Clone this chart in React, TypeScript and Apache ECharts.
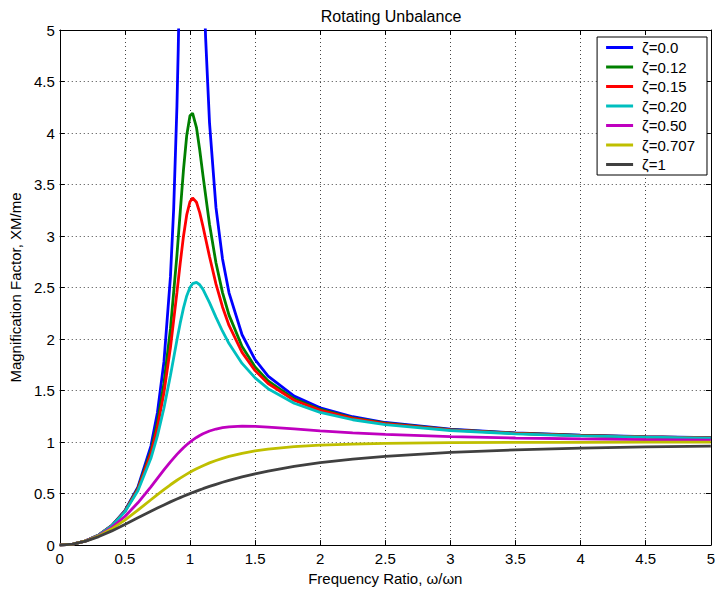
import React, { useEffect, useRef } from "react";
import * as echarts from "echarts";

// Frequency ratio samples (ω/ωn)
const ratioUndamped = [0, 0.1, 0.2, 0.3, 0.4, 0.5, 0.6, 0.7, 0.75, 0.8, 0.85, 0.875, 0.9, 0.91, 0.92, 1.11, 1.12, 1.15, 1.2, 1.25, 1.3, 1.4, 1.5, 1.6, 1.8, 2.0, 2.25, 2.5, 3.0, 3.5, 4.0, 4.5, 5.0];
const zeta000 = [0, 0.0101, 0.0417, 0.0989, 0.1905, 0.3333, 0.5625, 0.9608, 1.2857, 1.7778, 2.6036, 3.267, 4.263, 4.817, 5.51, 5.31, 4.931, 4.101, 3.273, 2.778, 2.449, 2.042, 1.8, 1.641, 1.446, 1.333, 1.246, 1.190, 1.125, 1.089, 1.067, 1.052, 1.042];

const ratio = [0, 0.1, 0.2, 0.3, 0.4, 0.5, 0.6, 0.7, 0.75, 0.8, 0.85, 0.9, 0.925, 0.95, 0.975, 1.0, 1.02, 1.05, 1.075, 1.1, 1.15, 1.2, 1.25, 1.3, 1.4, 1.5, 1.6, 1.8, 2.0, 2.25, 2.5, 3.0, 3.5, 4.0, 4.5, 5.0];
const zeta012 = [0, 0.0101, 0.0416, 0.0986, 0.1892, 0.3292, 0.5488, 0.9126, 1.189, 1.5686, 2.098, 2.815, 3.231, 3.639, 3.975, 4.167, 4.193, 4.053, 3.8355, 3.587, 3.115, 2.738, 2.451, 2.232, 1.927, 1.7297, 1.5934, 1.4203, 1.3166, 1.2353, 1.1828, 1.1205, 1.0859, 1.0645, 1.0503, 1.0404];
const zeta015 = [0, 0.0101, 0.0416, 0.0984, 0.1886, 0.3269, 0.5415, 0.8884, 1.143, 1.4791, 1.9174, 2.453, 2.7353, 2.996, 3.2047, 3.333, 3.370, 3.328, 3.2273, 3.093, 2.801, 2.533, 2.3113, 2.132, 1.8705, 1.6936, 1.5684, 1.4061, 1.3074, 1.2293, 1.1785, 1.1179, 1.0842, 1.0633, 1.0494, 1.0396];
const zeta020 = [0, 0.0101, 0.0415, 0.0981, 0.1871, 0.3221, 0.5267, 0.8422, 1.060, 1.3287, 1.6462, 1.990, 2.1543, 2.300, 2.4182, 2.5, 2.5376, 2.550, 2.5271, 2.482, 2.354, 2.211, 2.0761, 1.956, 1.7635, 1.6228, 1.5182, 1.377, 1.2883, 1.2167, 1.1695, 1.1125, 1.0806, 1.0607, 1.0474, 1.0381];
const zeta050 = [0, 0.0100, 0.0408, 0.0939, 0.1720, 0.2774, 0.4104, 0.5658, 0.6478, 0.7295, 0.8081, 0.8806, 0.9139, 0.945, 0.9738, 1.0, 1.0192, 1.045, 1.0639, 1.0805, 1.1073, 1.1267, 1.1399, 1.1483, 1.1546, 1.1523, 1.1456, 1.1275, 1.1094, 1.0901, 1.0748, 1.0534, 1.0397, 1.0307, 1.0243, 1.0198];
const zeta0707 = [0, 0.0100, 0.0400, 0.0896, 0.1580, 0.2425, 0.3387, 0.4400, 0.4903, 0.5390, 0.5856, 0.6294, 0.6502, 0.670, 0.6891, 0.7072, 0.7211, 0.7408, 0.7563, 0.7709, 0.7978, 0.8215, 0.8424, 0.8607, 0.8909, 0.9139, 0.9316, 0.9556, 0.9702, 0.9811, 0.9875, 0.9939, 0.9967, 0.9981, 0.9988, 0.9992];
const zeta100 = [0, 0.0099, 0.0385, 0.0826, 0.1379, 0.2, 0.2647, 0.3289, 0.36, 0.3902, 0.4194, 0.4475, 0.4611, 0.4744, 0.4873, 0.5, 0.5099, 0.5244, 0.5361, 0.5475, 0.5694, 0.5902, 0.6098, 0.6283, 0.6622, 0.6923, 0.7191, 0.7642, 0.8, 0.8351, 0.8621, 0.9, 0.9245, 0.9412, 0.9529, 0.9615];

const seriesNames = ["ζ=0.0", "ζ=0.12", "ζ=0.15", "ζ=0.20", "ζ=0.50", "ζ=0.707", "ζ=1"];
const seriesColors = ["#0000ff", "#008000", "#ff0000", "#00bfbf", "#bf00bf", "#bfbf00", "#404040"];

const FONT = "Liberation Sans, Arial, sans-serif";

export default function App() {
  const ref = useRef<HTMLDivElement>(null);

  useEffect(() => {
    if (!ref.current) return;
    const chart = echarts.init(ref.current, undefined, { renderer: "svg" });

    const pair = (xs: number[], ys: number[]) => xs.map((x, i) => [x, ys[i]]);
    const datasets = [
      pair(ratioUndamped, zeta000),
      pair(ratio, zeta012),
      pair(ratio, zeta015),
      pair(ratio, zeta020),
      pair(ratio, zeta050),
      pair(ratio, zeta0707),
      pair(ratio, zeta100),
    ];

    const splitLine = { show: true, lineStyle: { color: "#444", type: [1, 3] as any, width: 1 } };
    const axisLine = { show: true, onZero: false, lineStyle: { color: "#000", width: 1 } };
    const tick = { show: true, inside: true, length: 5, lineStyle: { color: "#000" } };
    const label = { color: "#000", fontFamily: FONT, fontSize: 15 };

    chart.setOption({
      animation: false,
      backgroundColor: "#fff",
      title: {
        text: "Rotating Unbalance",
        left: 386,
        textAlign: "center",
        top: 3,
        textStyle: { fontFamily: FONT, fontSize: 16, fontWeight: "normal", color: "#000" },
      },
      grid: { left: 59, right: 5, top: 30, bottom: 44, show: false },
      legend: {
        orient: "vertical",
        right: 11,
        top: 37,
        data: seriesNames,
        icon: "rect",
        itemWidth: 27,
        itemHeight: 3,
        itemGap: 4.5,
        padding: [3, 12, 3, 9],
        borderColor: "#000",
        borderWidth: 1,
        borderRadius: 0,
        backgroundColor: "#fff",
        textStyle: { fontFamily: FONT, fontSize: 15, color: "#000", padding: [0, 0, 0, 4] },
      },
      xAxis: [
        {
          type: "value",
          min: 0,
          max: 5,
          interval: 0.5,
          name: "Frequency Ratio, ω/ωn",
          nameLocation: "middle",
          nameGap: 25.5,
          nameTextStyle: { fontFamily: FONT, fontSize: 15, color: "#000" },
          axisLine,
          axisTick: tick,
          axisLabel: { ...label, margin: 6 },
          splitLine,
        },
        {
          type: "value",
          position: "top",
          min: 0,
          max: 5,
          interval: 0.5,
          axisLine,
          axisTick: tick,
          axisLabel: { show: false },
          splitLine: { show: false },
        },
      ],
      yAxis: [
        {
          type: "value",
          min: 0,
          max: 5,
          interval: 0.5,
          name: "Magnification Factor, XM/me",
          nameLocation: "middle",
          nameGap: 30.5,
          nameTextStyle: { fontFamily: FONT, fontSize: 15, color: "#000" },
          axisLine,
          axisTick: tick,
          axisLabel: { ...label, margin: 5 },
          splitLine,
        },
        {
          type: "value",
          position: "right",
          min: 0,
          max: 5,
          interval: 0.5,
          axisLine,
          axisTick: tick,
          axisLabel: { show: false },
          splitLine: { show: false },
        },
      ],
      series: datasets.map((d, i) => ({
        name: seriesNames[i],
        type: "line",
        data: d,
        xAxisIndex: 0,
        yAxisIndex: 0,
        showSymbol: false,
        symbol: "none",
        clip: true,
        smooth: false,
        lineStyle: { color: seriesColors[i], width: 2.8 },
        itemStyle: { color: seriesColors[i] },
      })),
    });

    return () => chart.dispose();
  }, []);

  return (
    <div
      ref={ref}
      style={{ position: "absolute", left: 0, top: 0, width: 718, height: 591 }}
    />
  );
}
